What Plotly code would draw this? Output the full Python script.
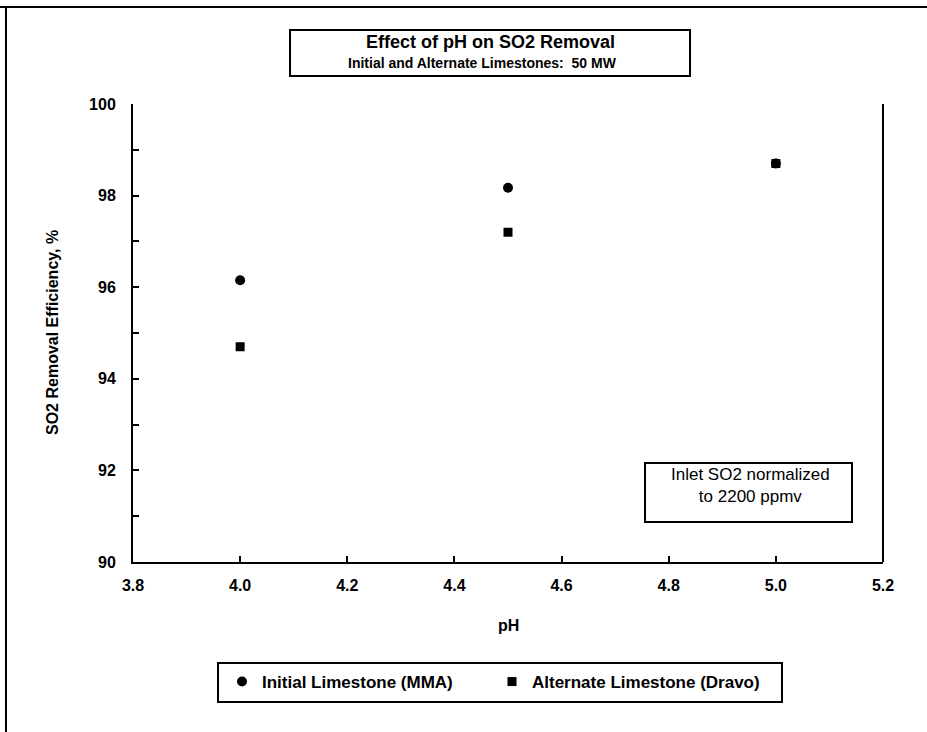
import plotly.graph_objects as go

# pH setpoints and measured SO2 removal efficiency (%)
ph = [4.0, 4.5, 5.0]
mma_removal = [96.15, 98.17, 98.7]
dravo_removal = [94.7, 97.2, 98.7]

series_names = ["Initial Limestone (MMA)", "Alternate Limestone (Dravo)"]
x_ticks = [3.8, 4.0, 4.2, 4.4, 4.6, 4.8, 5.0, 5.2]
y_ticks = [90, 92, 94, 96, 98, 100]

W, H = 927, 732
L, R, T, B = 133, 44, 104, 170
PW, PH = W - L - R, H - T - B
FONT = "Liberation Sans, Arial, sans-serif"


def px(x):
    return (x - L) / PW


def py(y):
    return (H - B - y) / PH


fig = go.Figure()
fig.add_trace(go.Scatter(
    x=ph, y=mma_removal, mode="markers", name=series_names[0],
    marker=dict(symbol="circle", size=10, color="black"),
))
fig.add_trace(go.Scatter(
    x=ph, y=dravo_removal, mode="markers", name=series_names[1],
    marker=dict(symbol="square", size=9, color="black"),
))

axis_common = dict(
    showline=True, linecolor="black", linewidth=2, mirror=False,
    ticks="inside", ticklen=6, tickwidth=2, tickcolor="black",
    showgrid=False, zeroline=False,
    tickfont=dict(family=FONT, size=16, color="black", weight="bold"),
)

fig.update_xaxes(
    range=[3.8, 5.2], tickvals=x_ticks,
    ticktext=[f"{v:.1f}" for v in x_ticks],
    ticklabelstandoff=8, **axis_common,
)
fig.update_yaxes(
    range=[90, 100], tickvals=y_ticks,
    ticktext=[str(v) for v in y_ticks],
    minor=dict(ticks="inside", dtick=1, ticklen=6, tickwidth=2, tickcolor="black"),
    ticklabelstandoff=12, **axis_common,
)

shapes = [
    # outer frame (top and left edges)
    dict(type="line", xref="paper", yref="paper", x0=px(0), x1=px(W), y0=py(7), y1=py(7),
         line=dict(color="black", width=2)),
    dict(type="line", xref="paper", yref="paper", x0=px(6), x1=px(6), y0=py(7), y1=py(H),
         line=dict(color="black", width=2)),
    # right edge of plot area
    dict(type="line", xref="paper", yref="paper", x0=1, x1=1, y0=0, y1=1,
         line=dict(color="black", width=2)),
    # title box
    dict(type="rect", xref="paper", yref="paper", x0=px(290), x1=px(690), y0=py(30), y1=py(76),
         line=dict(color="black", width=2)),
    # note box
    dict(type="rect", xref="paper", yref="paper", x0=px(645), x1=px(852), y0=py(463), y1=py(522),
         line=dict(color="black", width=2), fillcolor="white", layer="below"),
    # legend box
    dict(type="rect", xref="paper", yref="paper", x0=px(218), x1=px(782), y0=py(663), y1=py(702),
         line=dict(color="black", width=2)),
]

annotations = [
    dict(text="Effect of pH on SO2 Removal", x=px(490), y=py(42), xref="paper", yref="paper",
         xanchor="center", yanchor="middle", showarrow=False,
         font=dict(family=FONT, size=18, color="black", weight="bold")),
    dict(text="Initial and Alternate Limestones:  50 MW", x=px(482), y=py(63), xref="paper",
         yref="paper", xanchor="center", yanchor="middle", showarrow=False,
         font=dict(family=FONT, size=14, color="black", weight="bold")),
    dict(text="Inlet SO2 normalized<br>to 2200 ppmv", x=px(750), y=py(463), xref="paper",
         yref="paper", xanchor="center", yanchor="top", showarrow=False,
         font=dict(family=FONT, size=17, color="black")),
    dict(text="pH", x=px(508), y=py(625), xref="paper", yref="paper",
         xanchor="center", yanchor="middle", showarrow=False,
         font=dict(family=FONT, size=16, color="black", weight="bold")),
    dict(text="SO2 Removal Efficiency, %", x=px(52), y=py(333), xref="paper", yref="paper",
         xanchor="center", yanchor="middle", showarrow=False, textangle=-90,
         font=dict(family=FONT, size=16, color="black", weight="bold")),
]

fig.update_layout(
    width=W, height=H,
    margin=dict(l=L, r=R, t=T, b=B, pad=0),
    paper_bgcolor="white", plot_bgcolor="white",
    showlegend=True,
    legend=dict(
        orientation="h", x=px(222), y=py(682), xanchor="left", yanchor="middle",
        xref="paper", yref="paper",
        font=dict(family=FONT, size=17, color="black", weight="bold"),
        bgcolor="rgba(0,0,0,0)", borderwidth=0,
        entrywidth=225, entrywidthmode="pixels",
    ),
    shapes=shapes,
    annotations=annotations,
)

fig.write_html("out.html")
